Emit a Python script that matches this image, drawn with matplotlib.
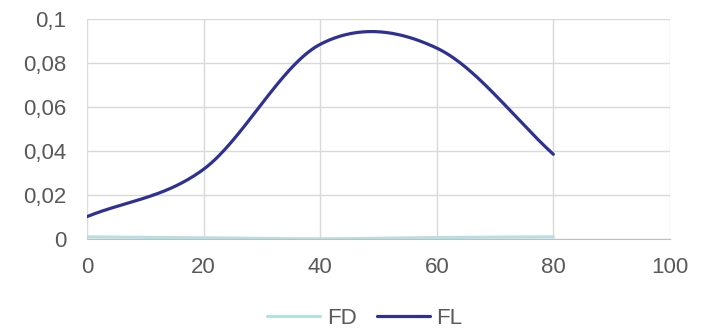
import numpy as np
import matplotlib
matplotlib.use("Agg")
import matplotlib.pyplot as plt
from matplotlib.ticker import FuncFormatter

plt.rcParams['font.family'] = ['Liberation Sans', 'DejaVu Sans']

x = [0, 20, 40, 60, 80]
fd = [0.0011, 0.0007, 0.0002, 0.0008, 0.0011]
fl = [0.0103, 0.0318, 0.0885, 0.0868, 0.0386]


def smooth(xs, ys, n=60):
    # Catmull-Rom style curve, like Excel's smoothed line
    xs = np.asarray(xs, float)
    ys = np.asarray(ys, float)
    px = np.concatenate([[2 * xs[0] - xs[1]], xs, [2 * xs[-1] - xs[-2]]])
    py = np.concatenate([[2 * ys[0] - ys[1]], ys, [2 * ys[-1] - ys[-2]]])
    ox, oy = [], []
    t = np.linspace(0, 1, n, endpoint=False)
    for i in range(1, len(px) - 2):
        p0, p1, p2, p3 = (np.array([px[j], py[j]]) for j in range(i - 1, i + 3))
        c1 = p1 + (p2 - p0) / 6
        c2 = p2 - (p3 - p1) / 6
        b = ((1 - t) ** 3)[:, None] * p1 + (3 * (1 - t) ** 2 * t)[:, None] * c1 \
            + (3 * (1 - t) * t ** 2)[:, None] * c2 + (t ** 3)[:, None] * p2
        ox.extend(b[:, 0])
        oy.extend(b[:, 1])
    ox.append(xs[-1])
    oy.append(ys[-1])
    return ox, oy


fig = plt.figure(figsize=(7.04, 3.3), dpi=100)
ax = fig.add_axes([0.1236, 0.2748, 0.828, 0.6676])

sx, sy = smooth(x, fd)
ax.plot(sx, sy, color='#b7dfe2', lw=2.3, label='FD', solid_capstyle='round', zorder=3)
sx, sy = smooth(x, fl)
ax.plot(sx, sy, color='#2e3192', lw=2.3, label='FL', solid_capstyle='round', zorder=4)

ax.set_xlim(0, 100)
ax.set_ylim(0, 0.1)
ax.set_xticks(range(0, 101, 20))
ax.set_yticks(np.arange(0, 0.101, 0.02))
ax.yaxis.set_major_formatter(FuncFormatter(lambda v, p: ('%g' % round(v, 3)).replace('.', ',')))
ax.grid(True, color='#d9d9d9', lw=1)
ax.set_axisbelow(True)
for s in ['top', 'right', 'left']:
    ax.spines[s].set_visible(False)
ax.spines['bottom'].set_color('#bfbfbf')
ax.tick_params(length=0, labelsize=16, labelcolor='#595959')
ax.tick_params(axis='x', pad=13)
ax.tick_params(axis='y', pad=15)

fig.legend(loc='center', bbox_to_anchor=(0.518, 0.035), ncol=2, frameon=False,
           fontsize=16, labelcolor='#595959', handlelength=2.4, handletextpad=0.3,
           columnspacing=0.9, borderpad=0)

plt.savefig('out.png', dpi=100)
